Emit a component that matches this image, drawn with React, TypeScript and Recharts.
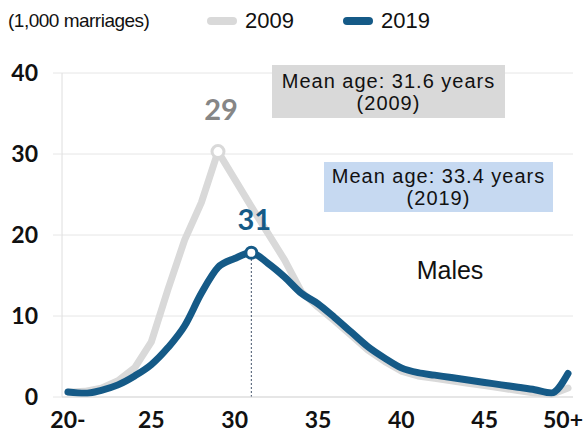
import React from 'react';
import { LineChart, Line, XAxis, YAxis, CartesianGrid, ReferenceLine } from 'recharts';

const categories = [
  '20-', '21', '22', '23', '24', '25', '26', '27', '28', '29', '30',
  '31', '32', '33', '34', '35', '36', '37', '38', '39', '40',
  '41', '42', '43', '44', '45', '46', '47', '48', '49', '50+',
];

const series2009 = [
  0.6, 0.7, 1.1, 2.0, 3.6, 6.8, 13.3, 19.4, 24.0, 30.3, 26.9,
  23.5, 20.2, 16.9, 13.0, 11.1, 9.4, 7.6, 5.8, 4.4, 3.2,
  2.6, 2.3, 2.0, 1.7, 1.4, 1.1, 0.8, 0.5, 0.3, 1.1,
];

const series2019 = [
  0.62, 0.45, 0.83, 1.5, 2.6, 4.0, 6.1, 8.8, 12.8, 16.0, 17.1,
  17.8, 16.5, 14.8, 12.8, 11.5, 9.8, 8.0, 6.2, 4.8, 3.6,
  3.0, 2.7, 2.4, 2.1, 1.8, 1.5, 1.2, 0.9, 0.5, 2.9,
];

const yTicks = [0, 10, 20, 30, 40];
const seriesNames = ['2009', '2019'];
const seriesColors = ['#d9d9d9', '#155a87'];
const unitText = '(1,000 marriages)';
const meanAge2009 = ['Mean age: 31.6 years', '(2009)'];
const meanAge2019 = ['Mean age: 33.4 years', '(2019)'];
const panelLabel = 'Males';

const data = categories.map((age, i) => ({
  age,
  s2009: series2009[i],
  s2019: series2019[i],
}));

const argMax = (arr: number[]) => arr.reduce((best, v, i) => (v > arr[best] ? i : best), 0);
const peak2009 = argMax(series2009);
const peak2019 = argMax(series2019);

const tickFontFamily = 'Lato, "Open Sans", sans-serif';
const tickFont = { fontSize: 23, fontWeight: 700, fill: '#111', fontFamily: tickFontFamily };

const XTick = (props: any) => {
  const { x, y, payload, index } = props;
  const isLast = payload.value === categories[categories.length - 1];
  return (
    <text
      key={`xt-${index}`}
      x={isLast ? x - 5 : x}
      y={y}
      dy="0.71em"
      textAnchor="middle"
      fontSize={23}
      fontWeight={700}
      fontFamily={tickFontFamily}
      fill="#111"
    >
      {payload.value}
    </text>
  );
};

const makeDot = (peakIdx: number, color: string, labelColor: string, r: number, labelDy: number) => (props: any) => {
  const { cx, cy, index } = props;
  if (index !== peakIdx || cx == null || cy == null) return <g key={`d-${index}`} />;
  return (
    <g key={`d-${index}`}>
      <circle cx={cx} cy={cy} r={r} fill="#fff" stroke={color} strokeWidth={3} />
      <text
        x={cx + 3}
        y={cy - labelDy}
        textAnchor="middle"
        dominantBaseline="central"
        fontSize={29}
        fontWeight={700}
        fontFamily={tickFontFamily}
        fill={labelColor}
      >
        {categories[index]}
      </text>
    </g>
  );
};

export default function App() {
  const font = '"Liberation Sans", Arial, sans-serif';
  const boxText = { fontSize: 20, lineHeight: '22px', letterSpacing: 1.0, color: '#111' };
  return (
    <div style={{ position: 'absolute', left: 0, top: 0, width: 586, height: 439, fontFamily: font, background: '#fff' }}>
      <LineChart width={586} height={439} data={data} margin={{ top: 73, right: 13, bottom: 0, left: 0 }}>
        <CartesianGrid vertical={false} stroke="#e6e6e6" />
        <XAxis
          dataKey="age"
          interval={4}
          tickLine={false}
          axisLine={{ stroke: '#d9d9d9' }}
          padding={{ left: 6, right: 5 }}
          height={42}
          tickMargin={9}
          tick={<XTick />}
        />
        <YAxis
          width={62}
          domain={[0, 40]}
          ticks={yTicks}
          tickSize={9}
          tickMargin={15}
          tickLine={{ stroke: '#e6e6e6' }}
          axisLine={{ stroke: '#dedede' }}
          tick={tickFont}
        />
        <ReferenceLine
          segment={[{ x: categories[peak2019], y: 0 }, { x: categories[peak2019], y: series2019[peak2019] }]}
          stroke="#44546a"
          strokeDasharray="2 2"
          strokeWidth={1}
        />
        <Line
          dataKey="s2009"
          type="linear"
          stroke={seriesColors[0]}
          strokeWidth={7}
          strokeLinejoin="round"
          strokeLinecap="round"
          dot={makeDot(peak2009, seriesColors[0], '#868686', 6, 43)}
          activeDot={false}
          isAnimationActive={false}
        />
        <Line
          dataKey="s2019"
          type="monotone"
          stroke={seriesColors[1]}
          strokeWidth={7}
          strokeLinejoin="round"
          strokeLinecap="round"
          dot={makeDot(peak2019, seriesColors[1], seriesColors[1], 5.5, 34)}
          activeDot={false}
          isAnimationActive={false}
        />
      </LineChart>

      <div style={{ position: 'absolute', left: 8, top: 10, fontSize: 19, lineHeight: '22px', color: '#111', letterSpacing: -0.5 }}>
        {unitText}
      </div>
      {seriesNames.map((name, i) => (
        <div key={name} style={{ position: 'absolute', left: i === 0 ? 207 : 343, top: 8, height: 26, display: 'flex', alignItems: 'center' }}>
          <div style={{ width: 30, height: 8, borderRadius: 4, background: seriesColors[i], marginRight: 8 }} />
          <span style={{ fontSize: 22, lineHeight: '26px', color: '#111' }}>{name}</span>
        </div>
      ))}

      <div style={{ position: 'absolute', left: 272, top: 65, width: 233, height: 53, background: '#d9d9d9', display: 'flex', flexDirection: 'column', alignItems: 'center', justifyContent: 'center', ...boxText }}>
        <div>{meanAge2009[0]}</div>
        <div>{meanAge2009[1]}</div>
      </div>
      <div style={{ position: 'absolute', left: 324, top: 162, width: 229, height: 50, background: '#c6d9f1', display: 'flex', flexDirection: 'column', alignItems: 'center', justifyContent: 'center', ...boxText }}>
        <div>{meanAge2019[0]}</div>
        <div>{meanAge2019[1]}</div>
      </div>
      <div style={{ position: 'absolute', left: 390, top: 254, width: 120, textAlign: 'center', fontSize: 25, lineHeight: '32px', color: '#111' }}>
        {panelLabel}
      </div>
    </div>
  );
}
